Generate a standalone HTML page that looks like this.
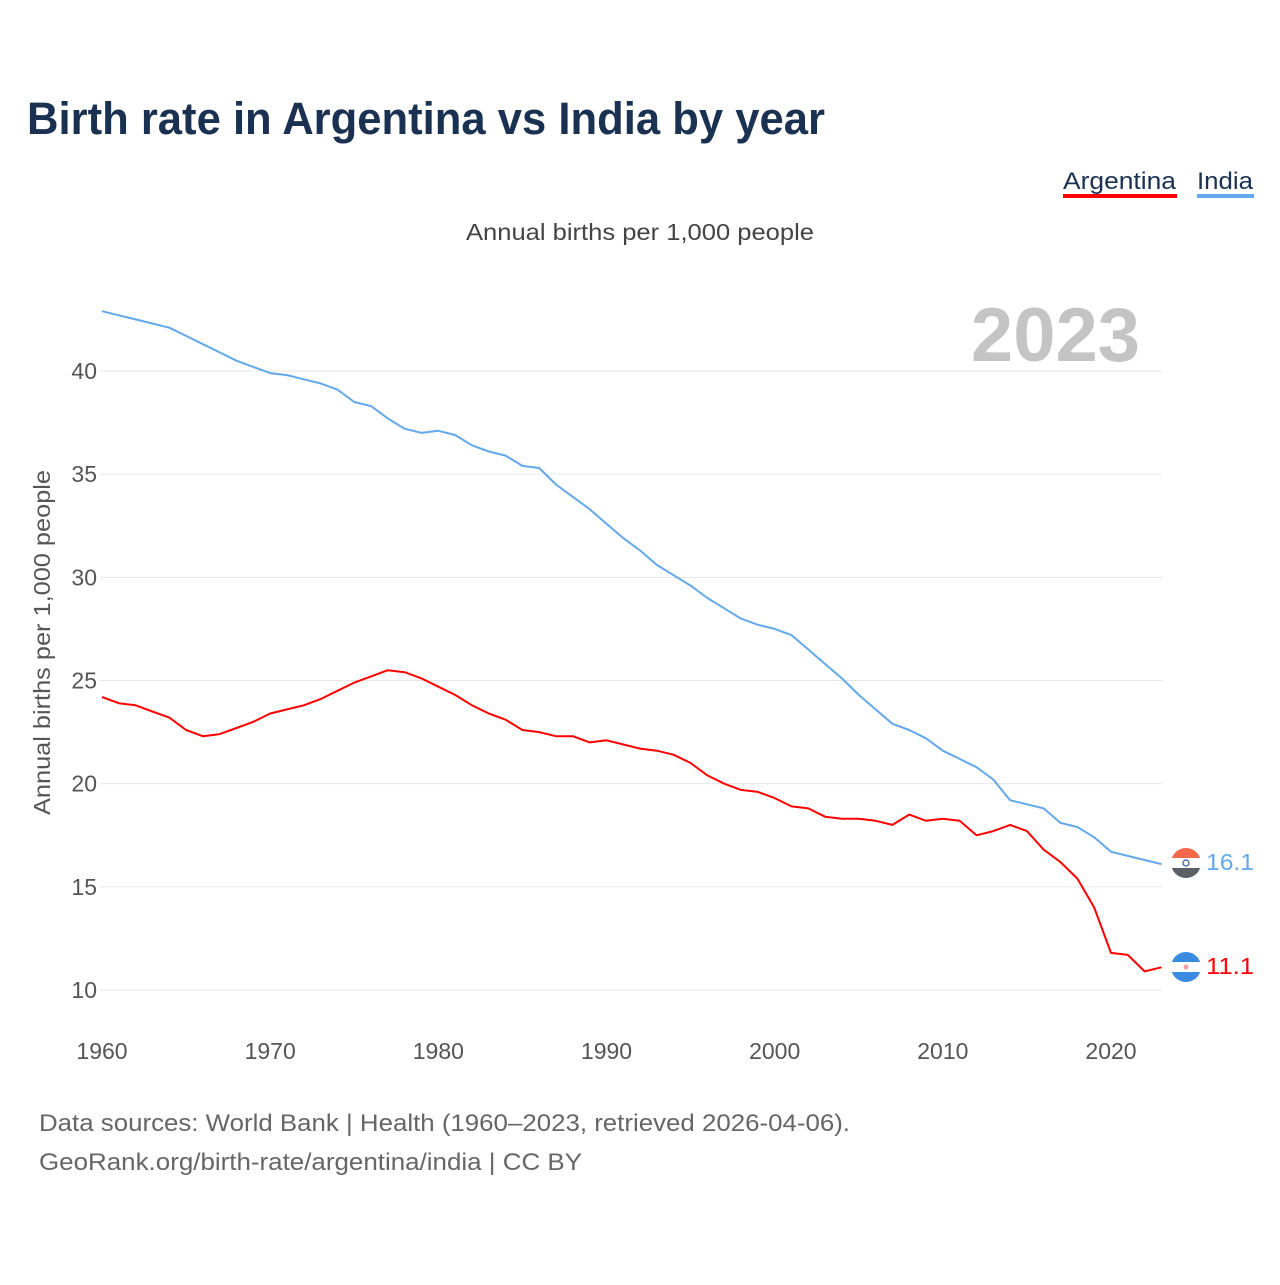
<!DOCTYPE html>
<html><head><meta charset="utf-8"><style>
html,body{margin:0;padding:0;background:#fff;}
body{width:1280px;height:1280px;overflow:hidden;font-family:"Liberation Sans",sans-serif;}
</style></head><body>
<svg id="chart" width="1280" height="1280" xmlns="http://www.w3.org/2000/svg" font-family="Liberation Sans, sans-serif">
<text x="27" y="134" font-size="45" font-weight="bold" fill="#1b3152" textLength="798" lengthAdjust="spacingAndGlyphs">Birth rate in Argentina vs India by year</text>
<g>
<text x="1063" y="189" font-size="24" fill="#1b3152" textLength="113" lengthAdjust="spacingAndGlyphs">Argentina</text>
<rect x="1063" y="194" width="114" height="4" fill="#ff0000"/>
<text x="1197" y="189" font-size="24" fill="#1b3152" textLength="56" lengthAdjust="spacingAndGlyphs">India</text>
<rect x="1197" y="194" width="57" height="4" fill="#63a8ea"/>
</g>
<text x="466" y="240" font-size="23" fill="#444" textLength="348" lengthAdjust="spacingAndGlyphs">Annual births per 1,000 people</text>
<text x="1140" y="361" font-size="76" font-weight="bold" fill="#c4c4c4" text-anchor="end">2023</text>
<text transform="translate(50,815) rotate(-90)" font-size="23" fill="#555" textLength="345" lengthAdjust="spacingAndGlyphs">Annual births per 1,000 people</text>
<g id="grid"></g><g id="xt"></g><g id="lines"></g>
<g>
<clipPath id="ci"><circle cx="1186" cy="863" r="15"/></clipPath>
<g clip-path="url(#ci)"><rect x="1170" y="847" width="32" height="11" fill="#f4694a"/><rect x="1170" y="858" width="32" height="10" fill="#fff"/><rect x="1170" y="868" width="32" height="11" fill="#5a6066"/><circle cx="1186" cy="863" r="3" fill="none" stroke="#2a55a8" stroke-width="1.2"/></g>
</g>
<g>
<clipPath id="ca"><circle cx="1186" cy="967" r="15"/></clipPath>
<g clip-path="url(#ca)"><rect x="1170" y="951" width="32" height="11" fill="#3b8be0"/><rect x="1170" y="962" width="32" height="10" fill="#fff"/><rect x="1170" y="972" width="32" height="11" fill="#3b8be0"/><circle cx="1186" cy="967" r="2.5" fill="#f4a0a0"/></g>
</g>
<text x="1206" y="870" font-size="23" fill="#63a8ea" textLength="48" lengthAdjust="spacingAndGlyphs">16.1</text>
<text x="1206" y="974" font-size="23" fill="#ff0000" textLength="48" lengthAdjust="spacingAndGlyphs">11.1</text>
<text x="39" y="1131" font-size="24" fill="#666" textLength="811" lengthAdjust="spacingAndGlyphs">Data sources: World Bank | Health (1960–2023, retrieved 2026-04-06).</text>
<text x="39" y="1170" font-size="24" fill="#666" textLength="543" lengthAdjust="spacingAndGlyphs">GeoRank.org/birth-rate/argentina/india | CC BY</text>
</svg>
<script>
const startYear = 1960;
const india = [42.9,42.7,42.5,42.3,42.1,41.7,41.3,40.9,40.5,40.2,39.9,39.8,39.6,39.4,39.1,38.5,38.3,37.7,37.2,37.0,37.1,36.9,36.4,36.1,35.9,35.4,35.3,34.5,33.9,33.3,32.6,31.9,31.3,30.6,30.1,29.6,29.0,28.5,28.0,27.7,27.5,27.2,26.5,25.8,25.1,24.3,23.6,22.9,22.6,22.2,21.6,21.2,20.8,20.2,19.2,19.0,18.8,18.1,17.9,17.4,16.7,16.5,16.3,16.1];
const argentina = [24.2,23.9,23.8,23.5,23.2,22.6,22.3,22.4,22.7,23.0,23.4,23.6,23.8,24.1,24.5,24.9,25.2,25.5,25.4,25.1,24.7,24.3,23.8,23.4,23.1,22.6,22.5,22.3,22.3,22.0,22.1,21.9,21.7,21.6,21.4,21.0,20.4,20.0,19.7,19.6,19.3,18.9,18.8,18.4,18.3,18.3,18.2,18.0,18.5,18.2,18.3,18.2,17.5,17.7,18.0,17.7,16.8,16.2,15.4,14.0,11.8,11.7,10.9,11.1];
const yTicks = [10,15,20,25,30,35,40];
const xTicks = [1960,1970,1980,1990,2000,2010,2020];
const NS="http://www.w3.org/2000/svg";
const X = yr => 102 + (yr-1960)*(1009/60);
const Y = v => 990 - (v-10)*(619/30);
function mk(t,a,p){const e=document.createElementNS(NS,t);for(const k in a)e.setAttribute(k,a[k]);p.appendChild(e);return e;}
const grid=document.getElementById('grid');
yTicks.forEach(v=>{
  const l=mk('line',{x1:100,x2:1162,y1:Y(v),y2:Y(v),stroke:'#e6e6e6','stroke-width':1},grid);
  
  
  const t=mk('text',{x:97,y:Y(v)+8,'font-size':23,fill:'#555','text-anchor':'end'},grid);
  t.textContent=v;
  
  
});
const xt=document.getElementById('xt');
xTicks.forEach(yr=>{
  const t=mk('text',{x:X(yr),y:1059,'font-size':23,fill:'#555','text-anchor':'middle'},xt);
  t.textContent=yr;
  
  
});
const lines=document.getElementById('lines');
function draw(arr,color,name){
  const d=arr.map((v,i)=>(i?'L':'M')+X(startYear+i).toFixed(1)+','+Y(v).toFixed(1)).join('');
  const p=mk('path',{d:d,fill:'none',stroke:color,'stroke-width':2,'stroke-linejoin':'round'},lines);
  
  
}
draw(india,'#63a8ea','india-line');
draw(argentina,'#ff0000','argentina-line');
</script>
</body></html>
